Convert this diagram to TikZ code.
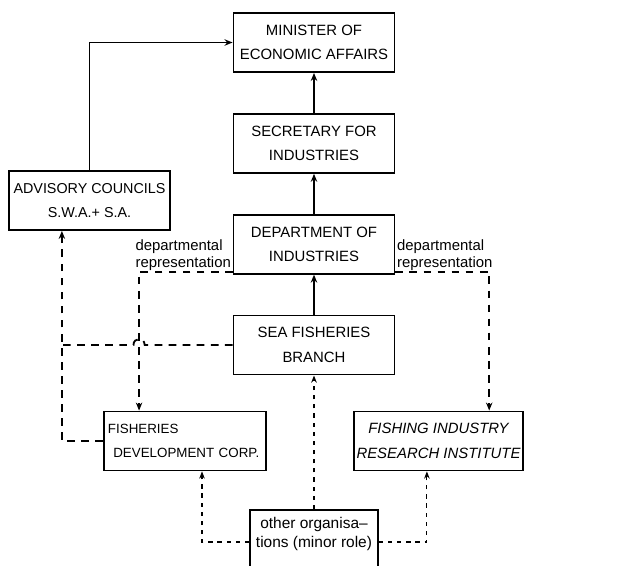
\documentclass[tikz,border=0pt]{standalone}
\usepackage{fontspec}
\setmainfont{Liberation Sans}
\usetikzlibrary{arrows.meta,positioning,calc}

\begin{document}
\begin{tikzpicture}[
    x=0.025cm, y=-0.025cm,
    box/.style={draw, line width=1.3pt, minimum width=4.025cm, minimum height=1.475cm, align=center, inner sep=2pt, font=\fontsize{10.6}{17.5}\selectfont},
    lbl/.style={align=left, inner sep=1pt, font=\fontsize{10.6}{12}\selectfont},
    arrow/.style={-{Stealth[length=2mm,width=1.6mm]}, line width=1.3pt},
    dashline/.style={line width=1.3pt, dash pattern=on 5.5pt off 4.5pt},
    dasharrow/.style={dashline, -{Stealth[length=2mm,width=1.6mm]}},
    minorarrow/.style={line width=0.8pt, dash pattern=on 3pt off 3.5pt, -{Stealth[length=1.8mm,width=1.4mm]}}
  ]
    \useasboundingbox (0,0) rectangle (640,566);

    \node[box] (minister) at (314,42.5) {MINISTER OF\\ECONOMIC AFFAIRS};
    \node[box, below=1.0cm of minister] (secretary) {SECRETARY FOR\\INDUSTRIES};
    \node[box, below=1.0cm of secretary] (dept) {DEPARTMENT OF\\INDUSTRIES};
    \node[box, below=1.0cm of dept] (sfb) {SEA FISHERIES\\BRANCH};
    \node[box, font=\fontsize{10.2}{17.5}\selectfont] (advisory) at (89.5,200.5) {ADVISORY COUNCILS\\S.W.A.+ S.A.};
    \node[box, minimum width=4.05cm, text width=3.85cm, align=left, font=\fontsize{9.5}{17.5}\selectfont] (fdc) at (185,441) {FISHERIES\\\hspace*{0.4em}DEVELOPMENT CORP.};
    \node[box, minimum width=4.175cm, font=\fontsize{10.6}{17.5}\selectfont\slshape] (firi) at (438.5,441) {FISHING INDUSTRY\\RESEARCH INSTITUTE};
    \node[draw, line width=1.3pt, anchor=north, minimum width=3.2cm, align=center, inner xsep=2pt, inner ysep=5pt, text depth=2cm, font=\fontsize{11}{14}\selectfont] (other) at (314,509) {other organisa--\\tions (minor role)};

    \node[lbl, anchor=south east] (lbll) at ([yshift=2pt]dept.south west) {departmental\\representation};
    \node[lbl, anchor=south west] (lblr) at ([yshift=2pt]dept.south east) {departmental\\representation};

    % main line
    \draw[arrow] (secretary) -- (minister);
    \draw[arrow] (dept) -- (secretary);
    \draw[arrow] (sfb) -- (dept);
    \draw[arrow] (advisory.north) |- (minister.west);

    % departmental representation
    \coordinate (dropL) at ([xshift=0.9cm]fdc.north west);
    \coordinate (dropR) at ([xshift=-0.875cm]firi.north east);
    \coordinate (riseL) at ([xshift=-0.69cm]advisory.south);
    \draw[dasharrow] ([yshift=2pt]dept.south west) -| (dropL);
    \draw[dasharrow] ([yshift=2pt]dept.south east) -| (dropR);
    \draw[dasharrow] (fdc.west) -| (riseL);
    \draw[dashline] (sfb.west) -- ([xshift=4pt]dropL |- sfb.west)
      .. controls +(0,-8) and +(0,-8) .. ([xshift=-4pt]dropL |- sfb.west) -- (riseL |- sfb.west);

    % other organisations
    \draw[minorarrow] (other.north) -- (sfb.south);
    \draw[minorarrow] ([yshift=-0.825cm]other.north west) -| ([xshift=0.425cm]fdc.south);
    \draw[minorarrow] ([yshift=-0.825cm]other.north east) -| ([xshift=-0.29cm]firi.south);
  \end{tikzpicture}
\end{document}
